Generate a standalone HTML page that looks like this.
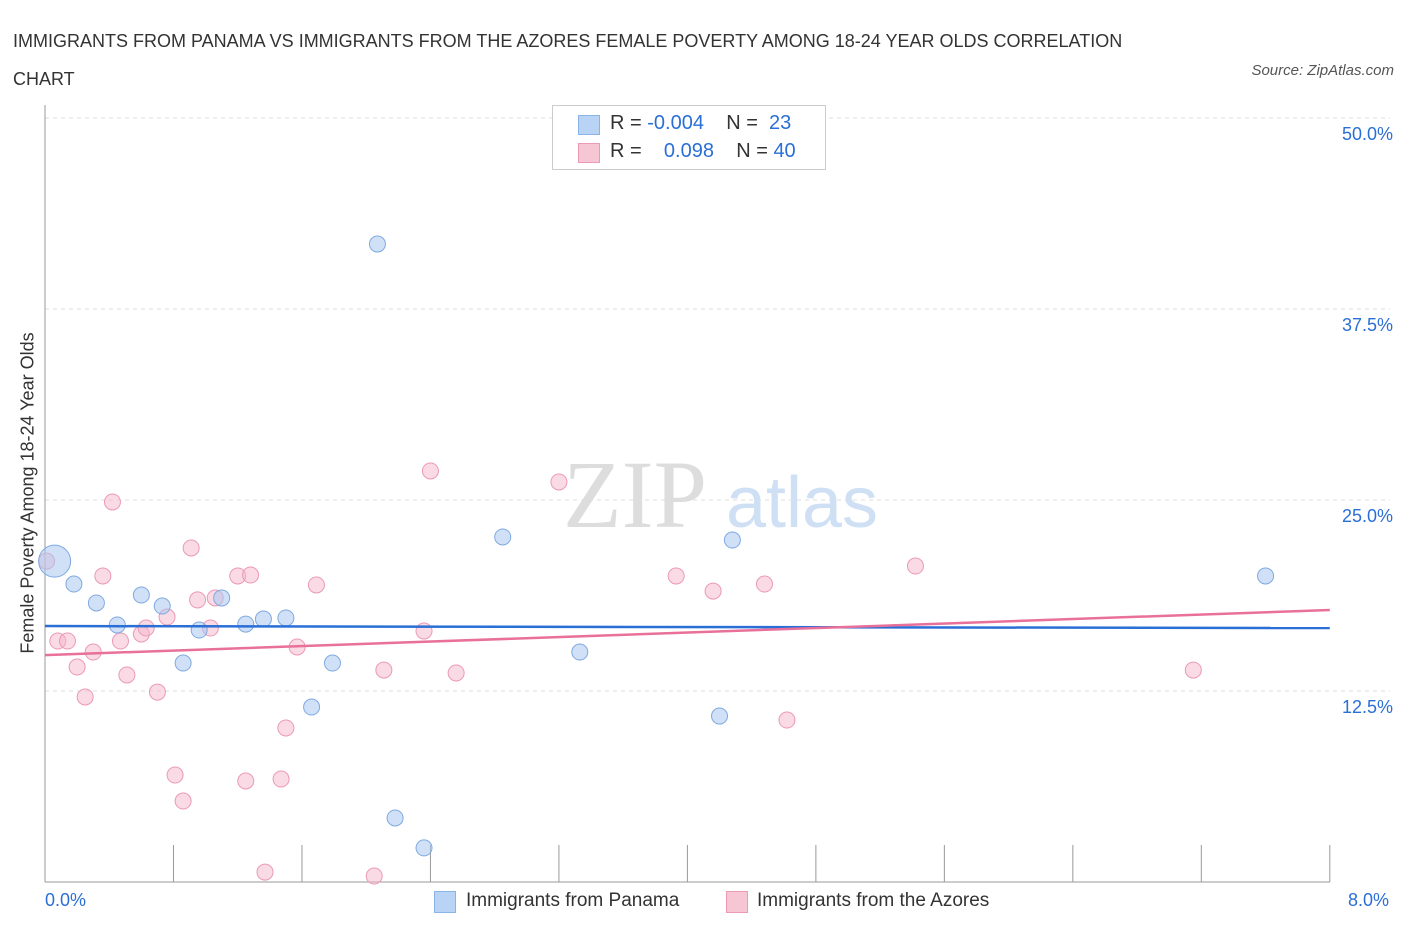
<!DOCTYPE html>
<html><head><meta charset="utf-8"><style>
body{margin:0;background:#fff;font-family:"Liberation Sans",sans-serif;}
#wrap{position:relative;width:1406px;height:930px;overflow:hidden;}
.t{position:absolute;white-space:nowrap;}
</style></head><body>
<div id="wrap">
<div class="t" style="left:13px;top:22px;font-size:18px;color:#333;line-height:38px;">IMMIGRANTS FROM PANAMA VS IMMIGRANTS FROM THE AZORES FEMALE POVERTY AMONG 18-24 YEAR OLDS CORRELATION<br>CHART</div>
<div class="t" style="right:12px;top:62px;font-size:15px;color:#555;font-style:italic;">Source: ZipAtlas.com</div>
<svg id="svg" width="1406" height="930" style="position:absolute;left:0;top:0"></svg>
<div class="t" style="left:28px;top:493px;font-size:18px;color:#333;transform:translate(-50%,-50%) rotate(-90deg);">Female Poverty Among 18-24 Year Olds</div>
<div style="position:absolute;left:552px;top:105px;width:272px;height:63px;border:1px solid #ccc;background:#fff;font-size:20px;color:#333;">
 <div style="position:absolute;left:25px;top:9px;width:20px;height:18px;background:#b8d3f3;border:1px solid #8ab4e8"></div>
 <div class="t" style="left:57px;top:6px;">R = <span style="color:#2a6fd6">-0.004</span>&nbsp;&nbsp;&nbsp; N = &nbsp;<span style="color:#2a6fd6">23</span></div>
 <div style="position:absolute;left:25px;top:37px;width:20px;height:18px;background:#f7c6d5;border:1px solid #eb9ab4"></div>
 <div class="t" style="left:57px;top:34px;">R = &nbsp;&nbsp; <span style="color:#2a6fd6">0.098</span>&nbsp;&nbsp;&nbsp; N = <span style="color:#2a6fd6">40</span></div>
</div>
<div class="t" style="left:45px;top:890px;font-size:18px;color:#2a6fd6;">0.0%</div>
<div class="t" style="left:1348px;top:890px;font-size:18px;color:#2a6fd6;">8.0%</div>
<div style="position:absolute;left:434px;top:891px;width:20px;height:20px;background:#b8d3f3;border:1px solid #8ab4e8"></div>
<div class="t" style="left:466px;top:890px;font-size:19px;color:#333;">Immigrants from Panama</div>
<div style="position:absolute;left:726px;top:891px;width:20px;height:20px;background:#f7c6d5;border:1px solid #eb9ab4"></div>
<div class="t" style="left:757px;top:890px;font-size:19px;color:#333;">Immigrants from the Azores</div>
</div>
<script>
const yTicks=[12.5,25,37.5,50];
const yTickLabels=["12.5%","25.0%","37.5%","50.0%"];
const xTicks=[0.8,1.6,2.4,3.2,4.0,4.8,5.6,6.4,7.2,8.0];
const panamaX=[0.06,0.18,0.32,0.45,0.60,0.73,0.86,0.96,1.10,1.25,1.36,1.50,1.66,1.79,2.07,2.18,2.36,2.85,3.33,4.20,4.28,7.60];
const panamaY=[21.0,19.5,18.26,16.82,18.78,18.06,14.33,16.49,18.59,16.88,17.21,17.28,11.45,14.33,41.75,4.19,2.23,22.58,15.05,10.86,22.38,20.03];
const azoresX=[0.01,0.08,0.14,0.20,0.25,0.30,0.36,0.42,0.47,0.51,0.60,0.63,0.70,0.76,0.81,0.86,0.91,0.95,1.03,1.06,1.20,1.28,1.25,1.37,1.47,1.50,1.57,1.69,2.05,2.11,2.36,2.40,2.56,3.20,3.93,4.16,4.48,4.62,5.42,7.15];
const azoresY=[21.0,15.77,15.77,14.07,12.11,15.05,20.03,24.87,15.77,13.55,16.23,16.62,12.43,17.34,7.0,5.3,21.86,18.46,16.62,18.59,20.03,20.09,6.61,0.65,6.74,10.08,15.38,19.44,0.39,13.87,16.43,26.9,13.68,26.18,20.03,19.04,19.5,10.6,20.68,13.87];
const panamaTrend=[16.75,16.62];
const azoresTrend=[14.85,17.8];
const X=v=>45+v*160.6, Y=v=>882-v*15.28;
const svg=document.getElementById('svg');const NS='http://www.w3.org/2000/svg';
function mk(t,a){const e=document.createElementNS(NS,t);for(const k in a)e.setAttribute(k,a[k]);svg.appendChild(e);return e;}
yTicks.forEach((v,i)=>{
 const g=mk('line',{x1:45,x2:1390,y1:Y(v),y2:Y(v),stroke:'#ddd','stroke-dasharray':'4,4'});
 
 
 const t=mk('text',{x:1393,y:Y(v)+22,'text-anchor':'end','font-size':18,fill:'#2a6fd6','font-family':'Liberation Sans'});
 t.textContent=yTickLabels[i];
 
 
});
let a=mk('line',{x1:45,x2:45,y1:105,y2:882,stroke:'#999'});


a=mk('line',{x1:45,x2:1330,y1:882,y2:882,stroke:'#999'});


xTicks.forEach(v=>{const l=mk('line',{x1:X(v),x2:X(v),y1:845,y2:882,stroke:'#999'});
 
 });
let w=mk('text',{x:635,y:527,'text-anchor':'middle','font-size':96,fill:'#ddd','font-family':'Liberation Serif'});w.textContent='ZIP';


w=mk('text',{x:802,y:527,'text-anchor':'middle','font-size':72,fill:'#cfe0f5','font-family':'Liberation Sans'});w.textContent='atlas';


azoresX.forEach((x,i)=>{const c=mk('circle',{cx:X(x),cy:Y(azoresY[i]),r:8,fill:'rgba(246,182,202,0.5)',stroke:'#eb9ab4','stroke-width':1});
 
 });
panamaX.forEach((x,i)=>{const c=mk('circle',{cx:X(x),cy:Y(panamaY[i]),r:i==0?16:8,fill:'rgba(170,200,240,0.55)',stroke:'#7fa9e0','stroke-width':1});
 
 });
let tl=mk('line',{x1:X(0),x2:X(8),y1:Y(panamaTrend[0]),y2:Y(panamaTrend[1]),stroke:'#2a6fd6','stroke-width':2.5});


tl=mk('line',{x1:X(0),x2:X(8),y1:Y(azoresTrend[0]),y2:Y(azoresTrend[1]),stroke:'#e8709a','stroke-width':2.5});


</script>
</body></html>
